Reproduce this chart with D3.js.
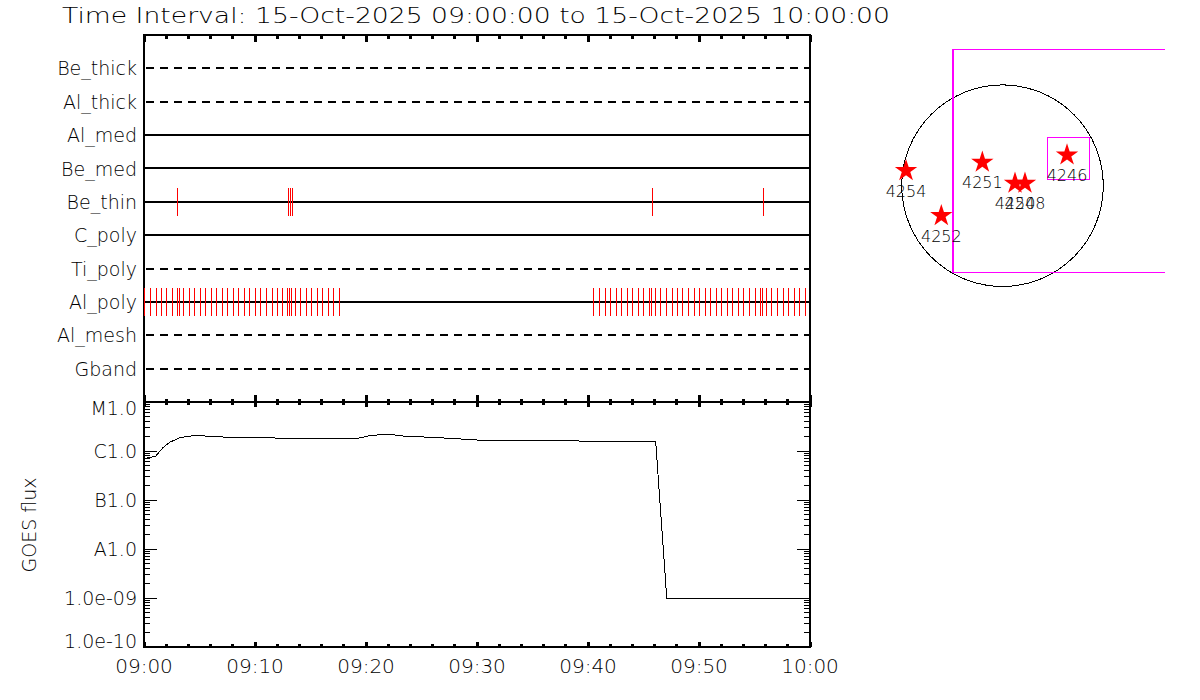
<!DOCTYPE html>
<html>
<head>
<meta charset="utf-8">
<script src="https://cdn.jsdelivr.net/npm/d3@7"></script>
<style>
  html, body { margin: 0; background: #fff; }
  svg { display: block; }
  text { font-family: "DejaVu Sans", sans-serif; font-weight: 200; fill: #000; }
  .axis path, .axis line { stroke: #000; }
</style>
</head>
<body>
<svg id="chart" width="1200" height="700"></svg>
<script>
const titleText = "Time Interval: 15-Oct-2025 09:00:00 to 15-Oct-2025 10:00:00";

// channels, top to bottom, with the line style of each row
const channels = ["Be_thick", "Al_thick", "Al_med", "Be_med", "Be_thin", "C_poly", "Ti_poly", "Al_poly", "Al_mesh", "Gband"];
const dashedChannels = ["Be_thick", "Al_thick", "Ti_poly", "Al_mesh", "Gband"];

// exposure times in minutes after 09:00
const beThinTimes = [2.97, 12.97, 13.15, 13.33, 45.77, 55.77];
const alPolyTimes = [
  0.03, 0.57, 1.11, 1.56, 2.01, 2.55, 2.95, 3.13, 3.54, 4.08, 4.53, 5.07, 5.52,
  6.06, 6.51, 7.05, 7.50, 8.05, 8.50, 9.04, 9.49, 10.03, 10.48, 11.02, 11.56,
  12.01, 12.46, 12.91, 13.09, 13.27, 13.63, 14.08, 14.62, 15.07, 15.61, 16.06,
  16.60, 17.05, 17.59,
  40.48, 41.02, 41.56, 42.01, 42.55, 43.00, 43.54, 43.99, 44.53, 44.98, 45.52,
  45.70, 46.06, 46.51, 47.05, 47.59, 48.05, 48.50, 49.04, 49.58, 50.03, 50.57,
  51.02, 51.56, 52.01, 52.55, 53.00, 53.54, 53.99, 54.53, 55.07, 55.52, 55.70,
  56.06, 56.51, 57.05, 57.59, 58.05, 58.59, 59.04, 59.58
];

// GOES curve
const goesTimes = [0, 1.0, 1.71, 2.34, 3.24, 4.75, 6.2, 11.6, 12.25, 16.76, 19.16, 20.36, 21.98, 23.67, 25.77, 30.27, 44.5, 46.06, 47.05, 60];
const goesFlux = [7.2e-7, 8.0e-7, 1.22e-6, 1.57e-6, 1.93e-6, 2.15e-6, 1.99e-6, 1.90e-6, 1.84e-6, 1.87e-6, 1.84e-6, 2.12e-6, 2.25e-6, 2.02e-6, 1.96e-6, 1.70e-6, 1.60e-6, 1.62e-6, 1.02e-9, 1.02e-9];

const fluxMajor = [1e-5, 1e-6, 1e-7, 1e-8, 1e-9, 1e-10];
const fluxLabels = ["M1.0", "C1.0", "B1.0", "A1.0", "1.0e-09", "1.0e-10"];
const fluxMinorFactors = [2, 3, 4, 5, 6, 7, 8, 9];

// active regions on the disc, arcsec from disc centre
const regionIds = ["4254", "4252", "4251", "4250", "4248", "4246"];
const regionX = [-957, -607, -200, 124, 223, 640];
const regionY = [149, -297, 232, 24, 24, 304];

// fields of view, arcsec
const fovEdges = { left: -494, right: 1613, top: 1353, bottom: -859 };
const targetEdges = { left: 444, right: 865, top: 480, bottom: 63 };

const svg = d3.select("#chart");

const minuteToDate = m => new Date(Date.UTC(2025, 9, 15, 9, 0, m * 60));
const xScale = d3.scaleUtc()
  .domain([minuteToDate(0), minuteToDate(60)])
  .range([144, 810]);
const rowScale = d3.scalePoint().domain(channels).range([35, 402]).padding(1);
const fluxScale = d3.scaleLog().domain([1e-10, 1e-5]).range([647, 402]);

const tenMin = d3.utcMinute.every(10);
const twoMin = d3.utcMinute.every(2);

// pixel column of a time, so the thin exposure marks stay sharp
const colOf = m => Math.round(xScale(minuteToDate(m))) + 0.5;

function drawXAxis(axisFn, y, len, minorLen) {
  const g = svg.append("g").attr("class", "axis").attr("transform", `translate(0,${y})`);
  g.append("g").call(axisFn(xScale).offset(0).ticks(twoMin).tickSizeOuter(0).tickSize(minorLen).tickFormat(""));
  g.append("g").call(axisFn(xScale).offset(0).ticks(tenMin).tickSizeOuter(0).tickSize(len).tickFormat(""));
  g.selectAll("line").attr("stroke-width", 3).attr("shape-rendering", "crispEdges");
  g.selectAll("path").attr("stroke-width", 2).attr("shape-rendering", "crispEdges");
}

// channel rows
svg.append("g").selectAll("line").data(channels).join("line")
  .attr("x1", xScale.range()[0])
  .attr("x2", xScale.range()[1])
  .attr("y1", d => Math.round(rowScale(d)))
  .attr("y2", d => Math.round(rowScale(d)))
  .attr("stroke", "#000")
  .attr("stroke-width", 2)
  .attr("shape-rendering", "crispEdges")
  .attr("stroke-dasharray", d => dashedChannels.includes(d) ? "8,6" : null)
  .attr("stroke-dashoffset", d => dashedChannels.includes(d) ? -2 : null);

// upper panel frame
const rowAxis = svg.append("g").attr("class", "axis").attr("transform", "translate(144,1)")
  .call(d3.axisLeft(rowScale).offset(0).tickSize(0).tickPadding(7));
rowAxis.select("path").remove();
rowAxis.selectAll("text").attr("font-size", 19).attr("font-family", null);

drawXAxis(d3.axisBottom, 35, 7, 4);
drawXAxis(d3.axisTop, 402, 7, 3);
drawXAxis(d3.axisBottom, 402, 5, 3);
drawXAxis(d3.axisTop, 647, 5, 3);

// bottom time labels come from their own axis, pointing down
const timeAxis = svg.append("g").attr("class", "axis").attr("transform", "translate(0,647)")
  .call(d3.axisBottom(xScale).offset(0).ticks(tenMin).tickSizeOuter(0).tickSize(0).tickPadding(12).tickFormat(d3.utcFormat("%H:%M")));
timeAxis.select("path").remove();
timeAxis.selectAll("text").attr("font-size", 20).attr("font-family", null);

// flux axes
const fluxMinor = fluxMajor.slice(1).flatMap(v => fluxMinorFactors.map(f => v * f));

function drawFluxAxis(axisFn, x, inward) {
  const g = svg.append("g").attr("class", "axis").attr("transform", `translate(${x},0)`);
  const minor = g.append("g").call(axisFn(fluxScale).offset(0).tickValues(fluxMinor).tickSizeOuter(0).tickSize(-inward).tickFormat(""));
  minor.selectAll("line").attr("shape-rendering", "crispEdges");
  const major = g.append("g").call(axisFn(fluxScale).offset(0).tickValues(fluxMajor).tickSizeOuter(0).tickSize(-13).tickPadding(7)
    .tickFormat((d, i) => fluxLabels[i]));
  major.selectAll("line").attr("shape-rendering", "crispEdges");
  g.selectAll("path").attr("stroke-width", 2).attr("shape-rendering", "crispEdges");
  return major;
}
const fluxLeft = drawFluxAxis(d3.axisLeft, 144, 6);
fluxLeft.selectAll("text").attr("font-size", 19).attr("font-family", null)
  .attr("dy", (d, i) => i === 0 ? "0.7em" : i === fluxMajor.length - 1 ? "0.07em" : "0.36em");
const fluxRight = drawFluxAxis(d3.axisRight, 810, 6);
fluxRight.selectAll("text").remove();

// side frames of the upper panel
[144, 810].forEach(x => {
  svg.append("line").attr("x1", x).attr("x2", x).attr("y1", 34).attr("y2", 403)
    .attr("stroke", "#000").attr("stroke-width", 2).attr("shape-rendering", "crispEdges");
});

// exposure marks go over the frame, the first one sits right on the left edge
function drawExposures(channel, times) {
  const y = Math.round(rowScale(channel));
  svg.append("g").selectAll("line").data(times).join("line")
    .attr("x1", colOf).attr("x2", colOf)
    .attr("y1", y - 14).attr("y2", y + 14)
    .attr("stroke", "#ff0000")
    .attr("stroke-width", 1)
    .attr("shape-rendering", "crispEdges");
}
drawExposures("Be_thin", beThinTimes);
drawExposures("Al_poly", alPolyTimes);

// GOES curve
const goesLine = d3.line()
  .x((d, i) => xScale(minuteToDate(goesTimes[i])))
  .y(d => fluxScale(d));
svg.append("path")
  .attr("d", goesLine(goesFlux))
  .attr("transform", "translate(0.5,0.5)")
  .attr("fill", "none")
  .attr("stroke", "#000")
  .attr("stroke-width", 1)
  .attr("shape-rendering", "crispEdges");

svg.append("text")
  .attr("transform", "translate(36,525) rotate(-90)")
  .attr("text-anchor", "middle")
  .attr("font-size", 19)
  .text("GOES flux");

svg.append("text")
  .attr("x", 62).attr("y", 23)
  .attr("font-size", 22)
  .attr("textLength", 828)
  .attr("lengthAdjust", "spacingAndGlyphs")
  .text(titleText);

// solar disc panel
const discX = d3.scaleLinear().domain([-1000, 1000]).range([901.7, 1103.3]);
const discY = d3.scaleLinear().domain([-1000, 1000]).range([286.5, 84.9]);

svg.append("circle")
  .attr("cx", discX(0)).attr("cy", discY(0))
  .attr("r", discX(1000) - discX(0))
  .attr("fill", "none").attr("stroke", "#000").attr("stroke-width", 1)
  .attr("shape-rendering", "crispEdges");

const boxLine = d3.line().x(d => discX(d[0])).y(d => discY(d[1]));
svg.append("path")
  .attr("d", boxLine([[fovEdges.right, fovEdges.top], [fovEdges.left, fovEdges.top], [fovEdges.left, fovEdges.bottom], [fovEdges.right, fovEdges.bottom]]))
  .attr("fill", "none").attr("stroke", "#ff00ff").attr("stroke-width", 1)
  .attr("shape-rendering", "crispEdges");
svg.append("line")
  .attr("x1", discX(fovEdges.left)).attr("x2", discX(fovEdges.left))
  .attr("y1", discY(fovEdges.top)).attr("y2", discY(fovEdges.bottom))
  .attr("stroke", "#ff00ff").attr("stroke-width", 2)
  .attr("shape-rendering", "crispEdges");
svg.append("rect")
  .attr("x", discX(targetEdges.left)).attr("y", discY(targetEdges.top))
  .attr("width", discX(targetEdges.right) - discX(targetEdges.left))
  .attr("height", discY(targetEdges.bottom) - discY(targetEdges.top))
  .attr("fill", "none").attr("stroke", "#ff00ff").attr("stroke-width", 1)
  .attr("shape-rendering", "crispEdges");

const star = d3.symbol().type(d3.symbolStar).size(155);
svg.selectAll("path.star").data(regionIds).join("path")
  .attr("class", "star")
  .attr("d", star)
  .attr("transform", (d, i) => `translate(${discX(regionX[i])},${discY(regionY[i])})`)
  .attr("fill", "#ff0000");
svg.selectAll("text.region").data(regionIds).join("text")
  .attr("class", "region")
  .attr("x", (d, i) => discX(regionX[i]))
  .attr("y", (d, i) => discY(regionY[i]) + 26)
  .attr("text-anchor", "middle")
  .attr("font-size", 16)
  .text(d => d);
</script>
</body>
</html>
